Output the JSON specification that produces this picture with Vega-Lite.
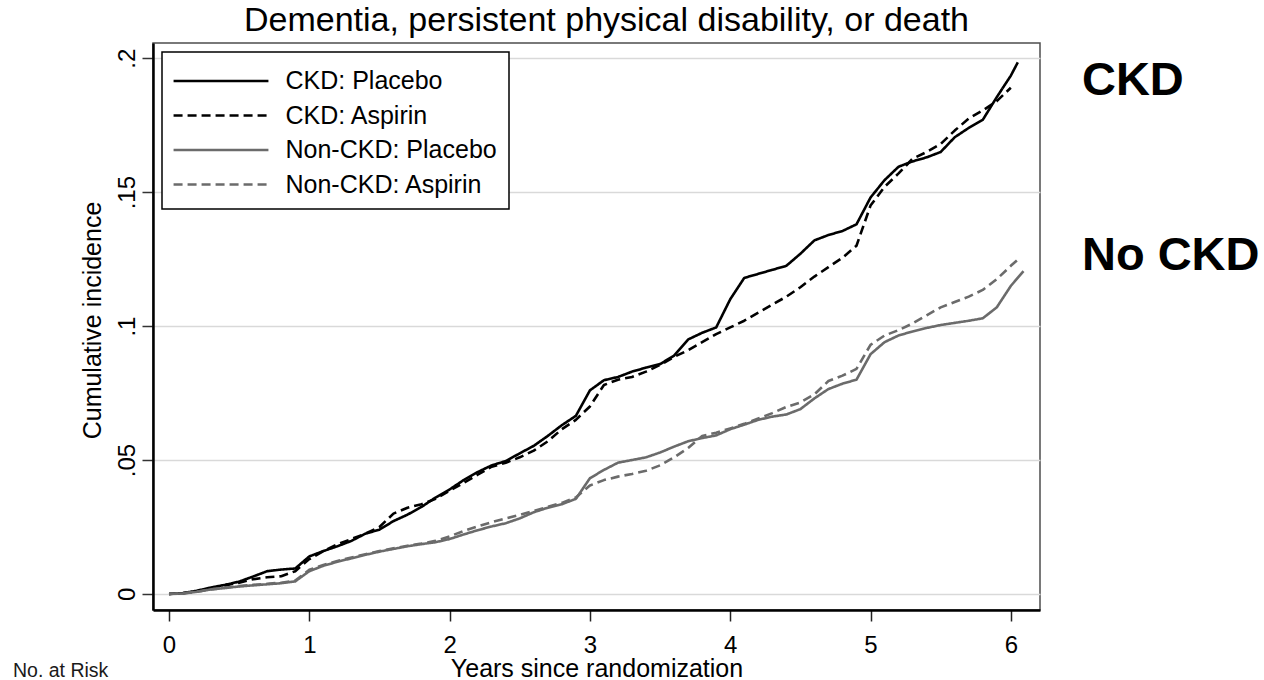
{
  "$schema": "https://vega.github.io/schema/vega-lite/v6.json",
  "autosize": {"type": "none"},
  "padding": {"left": 153, "top": 43, "right": 224, "bottom": 70},
  "width": 887,
  "height": 567,
  "background": "white",
  "title": {
    "text": "Dementia, persistent physical disability, or death",
    "font": "Liberation Sans",
    "fontSize": 34,
    "fontWeight": "normal",
    "color": "#000000",
    "baseline": "alphabetic",
    "offset": 11,
    "dy": 33,
    "frame": "group",
    "anchor": "middle",
    "dx": 10
  },
  "config": {
    "view": {"stroke": "#4d4d4d", "strokeWidth": 1.5},
    "font": "Liberation Sans",
    "legend": {
      "orient": "top-left",
      "offset": 9,
      "padding": 11.5,
      "strokeColor": "#000000",
      "strokeWidth": 1.5,
      "fillColor": "white",
      "symbolType": "M-3,0L3,0",
      "symbolSize": 1000,
      "symbolOffset": 30,
      "labelFontSize": 25,
      "labelFont": "Liberation Sans",
      "labelColor": "#000000",
      "labelOffset": 47,
      "rowPadding": 3.5,
      "labelLimit": 400
    }
  },
  "data": {
    "values": [
      {"s":"CKD: Placebo","t":0,"v":0},{"s":"CKD: Placebo","t":0.1,"v":0.0003},{"s":"CKD: Placebo","t":0.2,"v":0.0012},{"s":"CKD: Placebo","t":0.3,"v":0.0024},{"s":"CKD: Placebo","t":0.4,"v":0.0034},{"s":"CKD: Placebo","t":0.5,"v":0.0046},{"s":"CKD: Placebo","t":0.6,"v":0.0065},{"s":"CKD: Placebo","t":0.7,"v":0.0085},{"s":"CKD: Placebo","t":0.8,"v":0.0091},{"s":"CKD: Placebo","t":0.9,"v":0.0095},
      {"s":"CKD: Placebo","t":1.0,"v":0.0140},{"s":"CKD: Placebo","t":1.1,"v":0.0160},{"s":"CKD: Placebo","t":1.2,"v":0.0178},{"s":"CKD: Placebo","t":1.3,"v":0.0198},{"s":"CKD: Placebo","t":1.4,"v":0.0225},{"s":"CKD: Placebo","t":1.5,"v":0.0240},{"s":"CKD: Placebo","t":1.6,"v":0.0272},{"s":"CKD: Placebo","t":1.7,"v":0.0296},{"s":"CKD: Placebo","t":1.8,"v":0.0325},{"s":"CKD: Placebo","t":1.9,"v":0.0360},
      {"s":"CKD: Placebo","t":2.0,"v":0.0390},{"s":"CKD: Placebo","t":2.1,"v":0.0425},{"s":"CKD: Placebo","t":2.2,"v":0.0455},{"s":"CKD: Placebo","t":2.3,"v":0.0480},{"s":"CKD: Placebo","t":2.4,"v":0.0496},{"s":"CKD: Placebo","t":2.5,"v":0.0525},{"s":"CKD: Placebo","t":2.6,"v":0.0553},{"s":"CKD: Placebo","t":2.7,"v":0.0590},{"s":"CKD: Placebo","t":2.8,"v":0.0630},{"s":"CKD: Placebo","t":2.9,"v":0.0665},
      {"s":"CKD: Placebo","t":3.0,"v":0.0760},{"s":"CKD: Placebo","t":3.1,"v":0.0798},{"s":"CKD: Placebo","t":3.2,"v":0.0810},{"s":"CKD: Placebo","t":3.3,"v":0.0830},{"s":"CKD: Placebo","t":3.4,"v":0.0845},{"s":"CKD: Placebo","t":3.5,"v":0.0858},{"s":"CKD: Placebo","t":3.6,"v":0.0890},{"s":"CKD: Placebo","t":3.7,"v":0.0950},{"s":"CKD: Placebo","t":3.8,"v":0.0975},{"s":"CKD: Placebo","t":3.9,"v":0.0995},
      {"s":"CKD: Placebo","t":4.0,"v":0.1100},{"s":"CKD: Placebo","t":4.1,"v":0.1180},{"s":"CKD: Placebo","t":4.2,"v":0.1195},{"s":"CKD: Placebo","t":4.3,"v":0.1210},{"s":"CKD: Placebo","t":4.4,"v":0.1225},{"s":"CKD: Placebo","t":4.5,"v":0.1270},{"s":"CKD: Placebo","t":4.6,"v":0.1320},{"s":"CKD: Placebo","t":4.7,"v":0.1340},{"s":"CKD: Placebo","t":4.8,"v":0.1355},{"s":"CKD: Placebo","t":4.9,"v":0.1380},
      {"s":"CKD: Placebo","t":5.0,"v":0.1480},{"s":"CKD: Placebo","t":5.1,"v":0.1545},{"s":"CKD: Placebo","t":5.2,"v":0.1595},{"s":"CKD: Placebo","t":5.3,"v":0.1615},{"s":"CKD: Placebo","t":5.4,"v":0.1630},{"s":"CKD: Placebo","t":5.5,"v":0.1650},{"s":"CKD: Placebo","t":5.6,"v":0.1705},{"s":"CKD: Placebo","t":5.7,"v":0.1740},{"s":"CKD: Placebo","t":5.8,"v":0.1770},{"s":"CKD: Placebo","t":5.9,"v":0.1855},
      {"s":"CKD: Placebo","t":6.0,"v":0.1935},{"s":"CKD: Placebo","t":6.05,"v":0.1985},

      {"s":"CKD: Aspirin","t":0,"v":0},{"s":"CKD: Aspirin","t":0.1,"v":0.0003},{"s":"CKD: Aspirin","t":0.2,"v":0.0010},{"s":"CKD: Aspirin","t":0.3,"v":0.0022},{"s":"CKD: Aspirin","t":0.4,"v":0.0032},{"s":"CKD: Aspirin","t":0.5,"v":0.0042},{"s":"CKD: Aspirin","t":0.6,"v":0.0055},{"s":"CKD: Aspirin","t":0.7,"v":0.0062},{"s":"CKD: Aspirin","t":0.8,"v":0.0066},{"s":"CKD: Aspirin","t":0.9,"v":0.0085},
      {"s":"CKD: Aspirin","t":1.0,"v":0.0130},{"s":"CKD: Aspirin","t":1.1,"v":0.0160},{"s":"CKD: Aspirin","t":1.2,"v":0.0185},{"s":"CKD: Aspirin","t":1.3,"v":0.0205},{"s":"CKD: Aspirin","t":1.4,"v":0.0225},{"s":"CKD: Aspirin","t":1.5,"v":0.0250},{"s":"CKD: Aspirin","t":1.6,"v":0.0300},{"s":"CKD: Aspirin","t":1.7,"v":0.0322},{"s":"CKD: Aspirin","t":1.8,"v":0.0335},{"s":"CKD: Aspirin","t":1.9,"v":0.0355},
      {"s":"CKD: Aspirin","t":2.0,"v":0.0385},{"s":"CKD: Aspirin","t":2.1,"v":0.0415},{"s":"CKD: Aspirin","t":2.2,"v":0.0445},{"s":"CKD: Aspirin","t":2.3,"v":0.0475},{"s":"CKD: Aspirin","t":2.4,"v":0.0490},{"s":"CKD: Aspirin","t":2.5,"v":0.0510},{"s":"CKD: Aspirin","t":2.6,"v":0.0535},{"s":"CKD: Aspirin","t":2.7,"v":0.0570},{"s":"CKD: Aspirin","t":2.8,"v":0.0615},{"s":"CKD: Aspirin","t":2.9,"v":0.0650},
      {"s":"CKD: Aspirin","t":3.0,"v":0.0700},{"s":"CKD: Aspirin","t":3.1,"v":0.0780},{"s":"CKD: Aspirin","t":3.2,"v":0.0800},{"s":"CKD: Aspirin","t":3.3,"v":0.0810},{"s":"CKD: Aspirin","t":3.4,"v":0.0830},{"s":"CKD: Aspirin","t":3.5,"v":0.0855},{"s":"CKD: Aspirin","t":3.6,"v":0.0885},{"s":"CKD: Aspirin","t":3.7,"v":0.0910},{"s":"CKD: Aspirin","t":3.8,"v":0.0940},{"s":"CKD: Aspirin","t":3.9,"v":0.0970},
      {"s":"CKD: Aspirin","t":4.0,"v":0.0995},{"s":"CKD: Aspirin","t":4.1,"v":0.1020},{"s":"CKD: Aspirin","t":4.2,"v":0.1050},{"s":"CKD: Aspirin","t":4.3,"v":0.1080},{"s":"CKD: Aspirin","t":4.4,"v":0.1110},{"s":"CKD: Aspirin","t":4.5,"v":0.1145},{"s":"CKD: Aspirin","t":4.6,"v":0.1185},{"s":"CKD: Aspirin","t":4.7,"v":0.1220},{"s":"CKD: Aspirin","t":4.8,"v":0.1255},{"s":"CKD: Aspirin","t":4.9,"v":0.1300},
      {"s":"CKD: Aspirin","t":5.0,"v":0.1450},{"s":"CKD: Aspirin","t":5.1,"v":0.1520},{"s":"CKD: Aspirin","t":5.2,"v":0.1570},{"s":"CKD: Aspirin","t":5.3,"v":0.1625},{"s":"CKD: Aspirin","t":5.4,"v":0.1650},{"s":"CKD: Aspirin","t":5.5,"v":0.1680},{"s":"CKD: Aspirin","t":5.6,"v":0.1730},{"s":"CKD: Aspirin","t":5.7,"v":0.1775},{"s":"CKD: Aspirin","t":5.8,"v":0.1805},{"s":"CKD: Aspirin","t":5.9,"v":0.1840},
      {"s":"CKD: Aspirin","t":6.0,"v":0.1890},

      {"s":"Non-CKD: Placebo","t":0,"v":0},{"s":"Non-CKD: Placebo","t":0.1,"v":0.0002},{"s":"Non-CKD: Placebo","t":0.2,"v":0.0008},{"s":"Non-CKD: Placebo","t":0.3,"v":0.0017},{"s":"Non-CKD: Placebo","t":0.4,"v":0.0022},{"s":"Non-CKD: Placebo","t":0.5,"v":0.0028},{"s":"Non-CKD: Placebo","t":0.6,"v":0.0032},{"s":"Non-CKD: Placebo","t":0.7,"v":0.0036},{"s":"Non-CKD: Placebo","t":0.8,"v":0.0040},{"s":"Non-CKD: Placebo","t":0.9,"v":0.0047},
      {"s":"Non-CKD: Placebo","t":1.0,"v":0.0085},{"s":"Non-CKD: Placebo","t":1.1,"v":0.0105},{"s":"Non-CKD: Placebo","t":1.2,"v":0.0120},{"s":"Non-CKD: Placebo","t":1.3,"v":0.0133},{"s":"Non-CKD: Placebo","t":1.4,"v":0.0146},{"s":"Non-CKD: Placebo","t":1.5,"v":0.0158},{"s":"Non-CKD: Placebo","t":1.6,"v":0.0168},{"s":"Non-CKD: Placebo","t":1.7,"v":0.0178},{"s":"Non-CKD: Placebo","t":1.8,"v":0.0186},{"s":"Non-CKD: Placebo","t":1.9,"v":0.0193},
      {"s":"Non-CKD: Placebo","t":2.0,"v":0.0205},{"s":"Non-CKD: Placebo","t":2.1,"v":0.0222},{"s":"Non-CKD: Placebo","t":2.2,"v":0.0238},{"s":"Non-CKD: Placebo","t":2.3,"v":0.0252},{"s":"Non-CKD: Placebo","t":2.4,"v":0.0264},{"s":"Non-CKD: Placebo","t":2.5,"v":0.0282},{"s":"Non-CKD: Placebo","t":2.6,"v":0.0305},{"s":"Non-CKD: Placebo","t":2.7,"v":0.0322},{"s":"Non-CKD: Placebo","t":2.8,"v":0.0335},{"s":"Non-CKD: Placebo","t":2.9,"v":0.0355},
      {"s":"Non-CKD: Placebo","t":3.0,"v":0.0432},{"s":"Non-CKD: Placebo","t":3.1,"v":0.0463},{"s":"Non-CKD: Placebo","t":3.2,"v":0.0490},{"s":"Non-CKD: Placebo","t":3.3,"v":0.0500},{"s":"Non-CKD: Placebo","t":3.4,"v":0.0510},{"s":"Non-CKD: Placebo","t":3.5,"v":0.0528},{"s":"Non-CKD: Placebo","t":3.6,"v":0.0550},{"s":"Non-CKD: Placebo","t":3.7,"v":0.0570},{"s":"Non-CKD: Placebo","t":3.8,"v":0.0582},{"s":"Non-CKD: Placebo","t":3.9,"v":0.0592},
      {"s":"Non-CKD: Placebo","t":4.0,"v":0.0615},{"s":"Non-CKD: Placebo","t":4.1,"v":0.0632},{"s":"Non-CKD: Placebo","t":4.2,"v":0.0650},{"s":"Non-CKD: Placebo","t":4.3,"v":0.0662},{"s":"Non-CKD: Placebo","t":4.4,"v":0.0670},{"s":"Non-CKD: Placebo","t":4.5,"v":0.0690},{"s":"Non-CKD: Placebo","t":4.6,"v":0.0730},{"s":"Non-CKD: Placebo","t":4.7,"v":0.0765},{"s":"Non-CKD: Placebo","t":4.8,"v":0.0785},{"s":"Non-CKD: Placebo","t":4.9,"v":0.0800},
      {"s":"Non-CKD: Placebo","t":5.0,"v":0.0895},{"s":"Non-CKD: Placebo","t":5.1,"v":0.0940},{"s":"Non-CKD: Placebo","t":5.2,"v":0.0965},{"s":"Non-CKD: Placebo","t":5.3,"v":0.0980},{"s":"Non-CKD: Placebo","t":5.4,"v":0.0993},{"s":"Non-CKD: Placebo","t":5.5,"v":0.1004},{"s":"Non-CKD: Placebo","t":5.6,"v":0.1012},{"s":"Non-CKD: Placebo","t":5.7,"v":0.1020},{"s":"Non-CKD: Placebo","t":5.8,"v":0.1029},{"s":"Non-CKD: Placebo","t":5.9,"v":0.1070},
      {"s":"Non-CKD: Placebo","t":6.0,"v":0.1150},{"s":"Non-CKD: Placebo","t":6.09,"v":0.1205},

      {"s":"Non-CKD: Aspirin","t":0,"v":0},{"s":"Non-CKD: Aspirin","t":0.1,"v":0.0002},{"s":"Non-CKD: Aspirin","t":0.2,"v":0.0008},{"s":"Non-CKD: Aspirin","t":0.3,"v":0.0017},{"s":"Non-CKD: Aspirin","t":0.4,"v":0.0023},{"s":"Non-CKD: Aspirin","t":0.5,"v":0.0029},{"s":"Non-CKD: Aspirin","t":0.6,"v":0.0034},{"s":"Non-CKD: Aspirin","t":0.7,"v":0.0038},{"s":"Non-CKD: Aspirin","t":0.8,"v":0.0042},{"s":"Non-CKD: Aspirin","t":0.9,"v":0.0050},
      {"s":"Non-CKD: Aspirin","t":1.0,"v":0.0090},{"s":"Non-CKD: Aspirin","t":1.1,"v":0.0108},{"s":"Non-CKD: Aspirin","t":1.2,"v":0.0123},{"s":"Non-CKD: Aspirin","t":1.3,"v":0.0136},{"s":"Non-CKD: Aspirin","t":1.4,"v":0.0148},{"s":"Non-CKD: Aspirin","t":1.5,"v":0.0160},{"s":"Non-CKD: Aspirin","t":1.6,"v":0.0170},{"s":"Non-CKD: Aspirin","t":1.7,"v":0.0180},{"s":"Non-CKD: Aspirin","t":1.8,"v":0.0188},{"s":"Non-CKD: Aspirin","t":1.9,"v":0.0198},
      {"s":"Non-CKD: Aspirin","t":2.0,"v":0.0215},{"s":"Non-CKD: Aspirin","t":2.1,"v":0.0235},{"s":"Non-CKD: Aspirin","t":2.2,"v":0.0252},{"s":"Non-CKD: Aspirin","t":2.3,"v":0.0268},{"s":"Non-CKD: Aspirin","t":2.4,"v":0.0282},{"s":"Non-CKD: Aspirin","t":2.5,"v":0.0295},{"s":"Non-CKD: Aspirin","t":2.6,"v":0.0310},{"s":"Non-CKD: Aspirin","t":2.7,"v":0.0325},{"s":"Non-CKD: Aspirin","t":2.8,"v":0.0340},{"s":"Non-CKD: Aspirin","t":2.9,"v":0.0360},
      {"s":"Non-CKD: Aspirin","t":3.0,"v":0.0405},{"s":"Non-CKD: Aspirin","t":3.1,"v":0.0425},{"s":"Non-CKD: Aspirin","t":3.2,"v":0.0438},{"s":"Non-CKD: Aspirin","t":3.3,"v":0.0448},{"s":"Non-CKD: Aspirin","t":3.4,"v":0.0460},{"s":"Non-CKD: Aspirin","t":3.5,"v":0.0480},{"s":"Non-CKD: Aspirin","t":3.6,"v":0.0510},{"s":"Non-CKD: Aspirin","t":3.7,"v":0.0545},{"s":"Non-CKD: Aspirin","t":3.8,"v":0.0590},{"s":"Non-CKD: Aspirin","t":3.9,"v":0.0602},
      {"s":"Non-CKD: Aspirin","t":4.0,"v":0.0618},{"s":"Non-CKD: Aspirin","t":4.1,"v":0.0635},{"s":"Non-CKD: Aspirin","t":4.2,"v":0.0655},{"s":"Non-CKD: Aspirin","t":4.3,"v":0.0675},{"s":"Non-CKD: Aspirin","t":4.4,"v":0.0698},{"s":"Non-CKD: Aspirin","t":4.5,"v":0.0715},{"s":"Non-CKD: Aspirin","t":4.6,"v":0.0745},{"s":"Non-CKD: Aspirin","t":4.7,"v":0.0795},{"s":"Non-CKD: Aspirin","t":4.8,"v":0.0815},{"s":"Non-CKD: Aspirin","t":4.9,"v":0.0840},
      {"s":"Non-CKD: Aspirin","t":5.0,"v":0.0930},{"s":"Non-CKD: Aspirin","t":5.1,"v":0.0965},{"s":"Non-CKD: Aspirin","t":5.2,"v":0.0985},{"s":"Non-CKD: Aspirin","t":5.3,"v":0.1010},{"s":"Non-CKD: Aspirin","t":5.4,"v":0.1040},{"s":"Non-CKD: Aspirin","t":5.5,"v":0.1070},{"s":"Non-CKD: Aspirin","t":5.6,"v":0.1090},{"s":"Non-CKD: Aspirin","t":5.7,"v":0.1110},{"s":"Non-CKD: Aspirin","t":5.8,"v":0.1135},{"s":"Non-CKD: Aspirin","t":5.9,"v":0.1175},
      {"s":"Non-CKD: Aspirin","t":6.0,"v":0.1225},{"s":"Non-CKD: Aspirin","t":6.05,"v":0.1248}
    ]
  },
  "layer": [
    {
      "mark": {"type": "line", "strokeCap": "butt", "strokeJoin": "round"},
      "encoding": {
        "x": {
          "field": "t", "type": "quantitative",
          "scale": {"domain": [-0.114, 6.208], "nice": false, "zero": false},
          "axis": {
            "values": [0, 1, 2, 3, 4, 5, 6],
            "format": "d",
            "title": "Years since randomization",
            "grid": false,
            "domainColor": "#000000", "domainWidth": 2.5,
            "tickColor": "#222222", "tickWidth": 1.5, "tickSize": 11,
            "labelFont": "Liberation Sans", "labelFontSize": 24, "labelColor": "#000000", "labelPadding": 12,
            "titleFont": "Liberation Sans", "titleFontSize": 25, "titleFontWeight": "normal", "titleColor": "#000000", "titlePadding": -1
          }
        },
        "y": {
          "field": "v", "type": "quantitative",
          "scale": {"domain": [-0.006, 0.2057], "nice": false, "zero": false},
          "axis": {
            "values": [0, 0.05, 0.1, 0.15, 0.2],
            "labelExpr": "datum.value == 0 ? '0' : substring(format(datum.value, '.2~f'), 1)",
            "title": "Cumulative incidence",
            "titleY": 277,
            "grid": true, "gridColor": "#d9d9d9", "gridWidth": 1.5,
            "domainColor": "#000000", "domainWidth": 2.5,
            "tickColor": "#333333", "tickWidth": 1.5, "tickSize": 11,
            "labelAngle": -90, "labelAlign": "center", "labelBaseline": "alphabetic",
            "labelFont": "Liberation Sans", "labelFontSize": 24, "labelColor": "#000000", "labelPadding": 8,
            "titleFont": "Liberation Sans", "titleFontSize": 25, "titleFontWeight": "normal", "titleColor": "#000000", "titlePadding": 10
          }
        },
        "color": {
          "field": "s", "type": "nominal",
          "scale": {"domain": ["CKD: Placebo", "CKD: Aspirin", "Non-CKD: Placebo", "Non-CKD: Aspirin"], "range": ["#000000", "#000000", "#6b6b6b", "#6b6b6b"]},
          "legend": {"title": null}
        },
        "strokeDash": {
          "field": "s", "type": "nominal",
          "scale": {"domain": ["CKD: Placebo", "CKD: Aspirin", "Non-CKD: Placebo", "Non-CKD: Aspirin"], "range": [[1, 0], [9, 5], [1, 0], [9, 5]]},
          "legend": {"title": null}
        },
        "strokeWidth": {
          "field": "s", "type": "nominal",
          "scale": {"domain": ["CKD: Placebo", "CKD: Aspirin", "Non-CKD: Placebo", "Non-CKD: Aspirin"], "range": [2.6, 2.6, 2.1, 2.1]},
          "legend": {"title": null}
        },
        "order": {"field": "t", "type": "quantitative"}
      }
    },
    {
      "data": {"values": [{"label": "CKD"}]},
      "mark": {"type": "text", "font": "Liberation Sans", "fontWeight": "bold", "fontSize": 47, "align": "left", "baseline": "middle", "color": "#000000"},
      "encoding": {
        "x": {"datum": 6.507, "type": "quantitative"},
        "y": {"datum": 0.1915, "type": "quantitative"},
        "text": {"field": "label"}
      }
    },
    {
      "data": {"values": [{"label": "No CKD"}]},
      "mark": {"type": "text", "font": "Liberation Sans", "fontWeight": "bold", "fontSize": 47, "align": "left", "baseline": "middle", "color": "#000000"},
      "encoding": {
        "x": {"datum": 6.507, "type": "quantitative"},
        "y": {"datum": 0.126, "type": "quantitative"},
        "text": {"field": "label"}
      }
    },
    {
      "data": {"values": [{"label": "No.  at Risk"}]},
      "mark": {"type": "text", "font": "Liberation Sans", "fontSize": 19.5, "align": "left", "baseline": "alphabetic", "color": "#1a1a1a"},
      "encoding": {
        "x": {"datum": -1.112, "type": "quantitative"},
        "y": {"datum": -0.031, "type": "quantitative"},
        "text": {"field": "label"}
      }
    }
  ]
}
